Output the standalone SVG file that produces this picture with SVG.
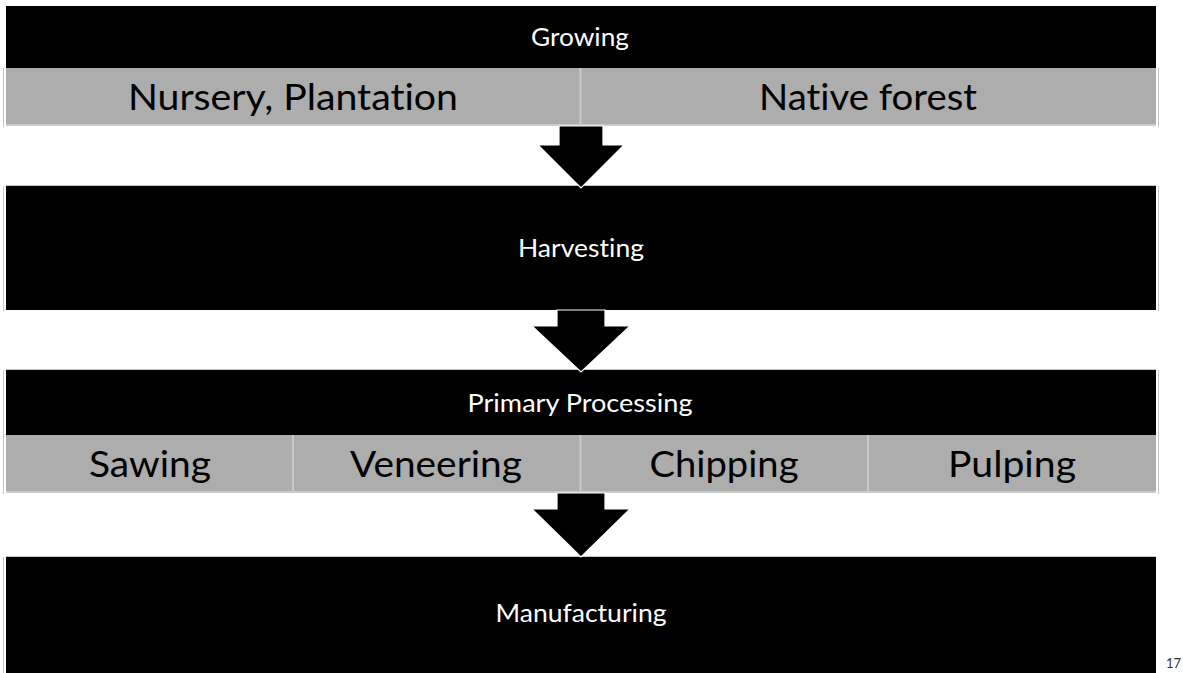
<svg xmlns="http://www.w3.org/2000/svg" width="1183" height="673" viewBox="0 0 1183 673">
<style>
.band{fill:#000000}
.cell{fill:#adadad}
.sep{stroke:#c9c9c9;stroke-width:2;fill:none}
.edge{stroke:#c4c4c4;stroke-width:1;fill:none}
text{font-family:Lato,"Open Sans","Liberation Sans",sans-serif;font-variant-ligatures:none;font-feature-settings:"liga" 0,"clig" 0}
.hd{font-size:25px;fill:#ffffff;text-anchor:middle}
.big{font-size:37px;fill:#000000;text-anchor:middle}
.arrow{fill:#000000;stroke:#ffffff;stroke-width:1.2;stroke-linejoin:miter}
.pg{font-size:13px;fill:#333333}
</style>
<rect width="1183" height="673" fill="#ffffff"/>

<g id="growing">
  <rect class="band" x="6" y="6" width="1150" height="62"/>
  <rect class="cell" x="6" y="68" width="1150" height="57"/>
  <line class="sep" x1="580.5" y1="68" x2="580.5" y2="125"/>
  <line class="sep" x1="6" y1="125" x2="1156" y2="125"/>
  <line class="edge" x1="3.5" y1="68" x2="3.5" y2="127"/>
  <line class="edge" x1="1158.5" y1="68" x2="1158.5" y2="127"/>
  <text class="hd" x="580" y="46" textLength="98" lengthAdjust="spacingAndGlyphs">Growing</text>
  <text class="big" x="293" y="110" textLength="330" lengthAdjust="spacingAndGlyphs">Nursery, Plantation</text>
  <text class="big" x="868" y="110" textLength="218" lengthAdjust="spacingAndGlyphs">Native forest</text>
</g>

<g id="harvesting">
  <rect class="band" x="6" y="186" width="1150" height="124"/>
  <line class="edge" x1="3.5" y1="186" x2="3.5" y2="311"/>
  <line class="edge" x1="1158.5" y1="186" x2="1158.5" y2="311"/>
  <line class="edge" x1="6" y1="185.5" x2="1156" y2="185.5"/>
  <text class="hd" x="581" y="257" textLength="126" lengthAdjust="spacingAndGlyphs">Harvesting</text>
</g>

<g id="primary-processing">
  <rect class="band" x="6" y="370" width="1150" height="65"/>
  <rect class="cell" x="6" y="435" width="1150" height="57"/>
  <line class="sep" x1="293" y1="435" x2="293" y2="492"/>
  <line class="sep" x1="580.5" y1="435" x2="580.5" y2="492"/>
  <line class="sep" x1="868" y1="435" x2="868" y2="492"/>
  <line class="sep" x1="6" y1="492" x2="1156" y2="492"/>
  <line class="edge" x1="3.5" y1="370" x2="3.5" y2="494"/>
  <line class="edge" x1="1158.5" y1="370" x2="1158.5" y2="494"/>
  <line class="edge" x1="6" y1="369.5" x2="1156" y2="369.5"/>
  <text class="hd" x="580" y="412" textLength="225" lengthAdjust="spacingAndGlyphs">Primary Processing</text>
  <text class="big" x="150" y="477" textLength="122" lengthAdjust="spacingAndGlyphs">Sawing</text>
  <text class="big" x="436" y="477" textLength="172" lengthAdjust="spacingAndGlyphs">Veneering</text>
  <text class="big" x="724" y="477" textLength="149" lengthAdjust="spacingAndGlyphs">Chipping</text>
  <text class="big" x="1012" y="477" textLength="128" lengthAdjust="spacingAndGlyphs">Pulping</text>
</g>

<g id="manufacturing">
  <rect class="band" x="6" y="557" width="1150" height="130"/>
  <line class="edge" x1="6" y1="556.5" x2="1156" y2="556.5"/>
  <line class="edge" x1="3.5" y1="557" x2="3.5" y2="673"/>
  <text class="hd" x="581" y="622" textLength="171" lengthAdjust="spacingAndGlyphs">Manufacturing</text>
</g>

<g id="connectors">
  <path class="arrow" d="M559,126 L603,126 L603,145 L624,145 L581,188 L538,145 L559,145 Z"/>
  <path class="arrow" d="M557,310 L605,310 L605,326 L630,326 L581,372 L532,326 L557,326 Z"/>
  <path class="arrow" d="M557,493 L605,493 L605,509 L630,509 L581,557 L532,509 L557,509 Z"/>
</g>

<text class="pg" x="1166" y="668">17</text>
</svg>
